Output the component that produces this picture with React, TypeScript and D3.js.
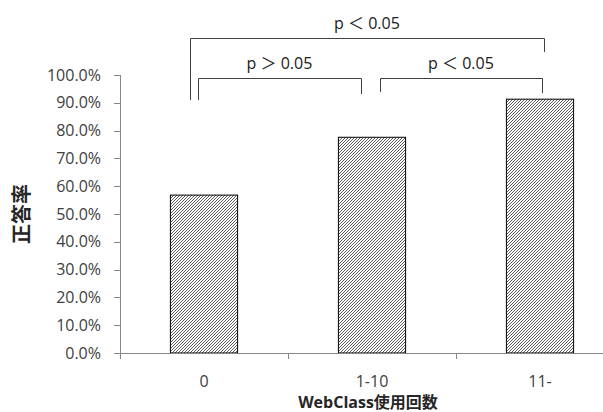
import React from "react";
import * as d3 from "d3";

const categories = ["0", "1-10", "11-"];
const values = [0.568, 0.776, 0.913];
const yTicks = [0, 0.1, 0.2, 0.3, 0.4, 0.5, 0.6, 0.7, 0.8, 0.9, 1.0];
const bracketLabels = ["p ＞ 0.05", "p ＜ 0.05", "p ＜ 0.05"];
const yTitle = "正答率";
const xTitle = "WebClass使用回数";

const W = 603;
const H = 412;
const FONT = "'Open Sans', 'Noto Sans CJK JP', sans-serif";

export default function App() {
  const x = d3.scaleBand<string>().domain(categories).range([120, 624]).paddingInner(0.6).paddingOuter(0.3);
  const y = d3.scaleLinear().domain([0, 1]).range([353, 75]);
  const step = x.step();
  const cx = (c: string) => (x(c) as number) + x.bandwidth() / 2;
  const fmt = d3.format(".1%");
  const axisColor = "#868686";
  const textColor = "#404040";

  const c0 = cx(categories[0]);
  const c1 = cx(categories[1]);
  const c2 = cx(categories[2]);

  // brackets: [x1, x2, yTop, yLeftEnd, yRightEnd, label]
  const brackets: [number, number, number, number, number, string][] = [
    [c0 - 6, c1 - 11, 78, 100, 94, bracketLabels[0]],
    [c1 + 8, c2 + 2, 78, 92, 93, bracketLabels[1]],
    [c0 - 14, c2 + 4, 38, 100, 52, bracketLabels[2]],
  ];

  return (
    <svg width={W} height={H} style={{ position: "absolute", left: 0, top: 0, background: "#fff" }}>
      <defs>
        <pattern id="hatch" patternUnits="userSpaceOnUse" width={3} height={3}>
          <rect width={3} height={3} fill="#fff" />
          <path d="M-1,4 L4,-1 M-1,1 L1,-1 M2,4 L4,2" stroke="#4a4a4a" strokeWidth={0.9} fill="none" />
        </pattern>
      </defs>
      {/* y axis */}
      <line x1={120.5} x2={120.5} y1={y(1)} y2={y(0)} stroke={axisColor} />
      {yTicks.map((t) => (
        <g key={t}>
          <line x1={114} x2={120} y1={Math.round(y(t)) + 0.5} y2={Math.round(y(t)) + 0.5} stroke={axisColor} />
          <text x={101} y={y(t)} dy="0.35em" textAnchor="end" fontSize={16} fill={textColor} fontFamily={FONT}>
            {fmt(t)}
          </text>
        </g>
      ))}
      {/* bars */}
      {categories.map((c, i) => (
        <rect
          key={c}
          x={x(c)}
          y={y(values[i])}
          width={x.bandwidth()}
          height={y(0) - y(values[i])}
          fill="url(#hatch)"
          stroke="#000"
          strokeWidth={1}
        />
      ))}
      {/* x axis */}
      <line x1={120} x2={W} y1={353.5} y2={353.5} stroke={axisColor} />
      {[0, 1, 2].map((i) => (
        <line key={i} x1={120 + i * step + 0.5} x2={120 + i * step + 0.5} y1={353} y2={359} stroke={axisColor} />
      ))}
      {categories.map((c) => (
        <text key={c} x={cx(c)} y={381} dy="0.35em" textAnchor="middle" fontSize={16} fill={textColor} fontFamily={FONT}>
          {c}
        </text>
      ))}
      {/* brackets */}
      {brackets.map(([x1, x2, yt, yl, yr, label], i) => (
        <g key={i}>
          <path
            d={`M${Math.round(x1) + 0.5},${yl} V${yt + 0.5} H${Math.round(x2) + 0.5} V${yr}`}
            fill="none"
            stroke="#404040"
            strokeWidth={1}
          />
          <text x={(x1 + x2) / 2} y={yt - 9} textAnchor="middle" fontSize={16} fill="#202020" fontFamily={FONT}>
            {label}
          </text>
        </g>
      ))}
      {/* titles */}
      <text
        transform={`translate(22,214) rotate(-90)`}
        textAnchor="middle"
        dy="0.35em"
        fontSize={20}
        fontWeight="bold"
        fill="#262626"
        fontFamily={FONT}
      >
        {yTitle}
      </text>
      <text x={368} y={402} dy="0.35em" textAnchor="middle" fontSize={16} fontWeight="bold" fill="#262626" fontFamily={FONT}>
        {xTitle}
      </text>
    </svg>
  );
}
